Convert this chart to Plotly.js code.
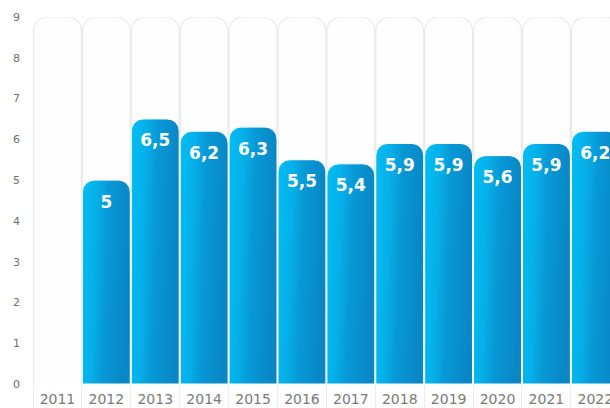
<!DOCTYPE html>
<html><head><meta charset="utf-8">
<script src="https://cdn.plot.ly/plotly-3.0.1.min.js"></script>
<style>html,body{margin:0;padding:0;background:#fff;overflow:hidden}#chart{width:610px;height:408px}</style>
</head><body><div id="chart"></div>
<script>
const years = ['2011','2012','2013','2014','2015','2016','2017','2018','2019','2020','2021','2022'];
const values = [0, 5, 6.5, 6.2, 6.3, 5.5, 5.4, 5.9, 5.9, 5.6, 5.9, 6.2];
const yMax = 9;
const yTicks = [0,1,2,3,4,5,6,7,8,9];

const labels = values.map(v => v ? String(v).replace('.', ',') : '');

const bg = {
  type: 'bar', x: years, y: years.map(() => yMax), xaxis: 'x', yaxis: 'y',
  marker: {color: '#fefefe', line: {color: '#e9e9e9', width: 1.2}, cornerradius: 14},
  hoverinfo: 'skip', showlegend: false
};
const fg = {
  type: 'bar', x: years, y: values, xaxis: 'x2', yaxis: 'y2',
  marker: {color: '#05a6e2', line: {color: '#ffffff', width: 1}, cornerradius: 12},
  showlegend: false
};
const txt = {
  type: 'scatter', mode: 'markers+text', x: years, y: values, text: labels, xaxis: 'x2', yaxis: 'y2',
  textposition: 'bottom center', cliponaxis: false,
  marker: {size: 22, color: 'rgba(0,0,0,0)'},
  textfont: {family: 'DejaVu Sans', size: 17, color: '#ffffff', weight: 'bold'},
  hoverinfo: 'skip', showlegend: false
};
const xRange = [-0.5, 11.3];
const layout = {
  width: 610, height: 408,
  margin: {l: 33, r: 0, t: 17, b: 24},
  bargap: 0.02,
  paper_bgcolor: '#fff', plot_bgcolor: '#fff',
  xaxis: {type: 'category', range: xRange, showgrid: false, zeroline: false, showline: false,
    ticks: 'outside', tickson: 'boundaries', ticklen: 24, tickcolor: '#ececec', tickwidth: 1,
    ticklabelstandoff: 5,
    tickfont: {family: 'DejaVu Sans', size: 14, color: '#7a7a7a'}, fixedrange: true},
  yaxis: {range: [0, yMax], tickvals: yTicks, showgrid: false, zeroline: false, showline: false,
    ticks: '', ticklabelstandoff: 12,
    tickfont: {family: 'DejaVu Sans', size: 11, color: '#707070'}, fixedrange: true},
  xaxis2: {type: 'category', overlaying: 'x', range: xRange, visible: false, fixedrange: true},
  yaxis2: {overlaying: 'y', range: [0, yMax], visible: false, fixedrange: true},
  font: {family: 'DejaVu Sans'}
};
Plotly.newPlot('chart', [bg, fg, txt], layout, {displayModeBar: false, staticPlot: true}).then(gd => {
  const svg = gd.querySelector('svg.main-svg');
  const ns = 'http://www.w3.org/2000/svg';
  let defs = svg.querySelector('defs');
  const g = document.createElementNS(ns, 'linearGradient');
  g.setAttribute('id', 'blueGrad'); g.setAttribute('x1', '0'); g.setAttribute('y1', '0');
  g.setAttribute('x2', '1'); g.setAttribute('y2', '0.15');
  [['0', '#00bdf2'], ['0.3', '#06b0ea'], ['0.55', '#0699d6'], ['1', '#0a86c4']].forEach(([o, c]) => {
    const s = document.createElementNS(ns, 'stop'); s.setAttribute('offset', o); s.setAttribute('stop-color', c); g.appendChild(s);
  });
  defs.appendChild(g);
  const traces = gd.querySelectorAll('.barlayer .trace');
  if (traces[1]) traces[1].querySelectorAll('path').forEach(p => { p.style.fill = 'url(#blueGrad)'; });
});
</script></body></html>
